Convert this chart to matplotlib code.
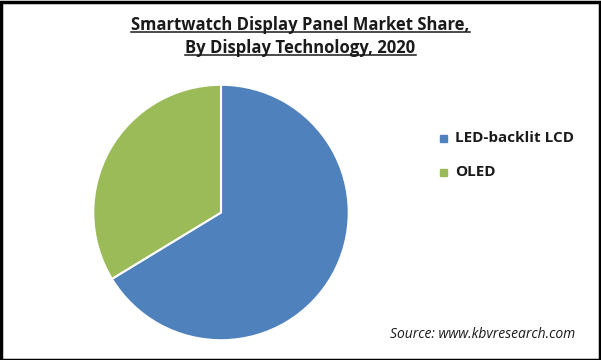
import matplotlib
matplotlib.use('Agg')
from matplotlib import pyplot as plt
from matplotlib.patches import Rectangle
from matplotlib.lines import Line2D

labels = ['LED-backlit LCD', 'OLED']
shares = [66.3, 33.7]
colors = ['#4F81BD', '#9BBB59']
title_lines = ['Smartwatch Display Panel Market Share,', 'By Display Technology, 2020']
source = 'Source: www.kbvresearch.com'

W, H = 601, 360
fig = plt.figure(figsize=(W/100, H/100), dpi=100)
fig.patch.set_facecolor('white')

# pie axes
cx, cy, r = 221, 212.5, 129
ax = fig.add_axes([(cx-r)/W, 1-(cy+r)/H, 2*r/W, 2*r/H])
ax.pie(shares, colors=colors, startangle=90, counterclock=False, radius=1,
       wedgeprops=dict(edgecolor='white', linewidth=1.5))
ax.set_xlim(-1.01, 1.01)
ax.set_ylim(-1.01, 1.01)
ax.set_aspect('equal')
ax.axis('off')

# title with underline
fam = ['Open Sans', 'DejaVu Sans']
ttexts = []
for i, line in enumerate(title_lines):
    y = 1 - (25 + i*23)/H
    t = fig.text(0.5, y, line, ha='center', va='center', fontsize=12,
                 fontweight='bold', family=fam, color='#1a1a1a')
    ttexts.append(t)

fig.canvas.draw()
renderer = fig.canvas.get_renderer()
for t in ttexts:
    bb = t.get_window_extent(renderer)
    yl = (bb.y0 + 2.5) / H
    fig.add_artist(Line2D([bb.x0/W, bb.x1/W], [yl, yl], color='#1a1a1a',
                          linewidth=1.1, transform=fig.transFigure))

# legend
leg_y = [138, 172]
for lab, col, y in zip(labels, colors, leg_y):
    fig.add_artist(Rectangle(((440)/W, 1-(y+4)/H), 7/W, 7/H, color=col,
                             transform=fig.transFigure))
    fig.text(455/W, 1-y/H, lab, ha='left', va='center', fontsize=11,
             fontweight='bold', family=fam, color='#1a1a1a')

# source
fig.text(575/W, 1-335/H, source, ha='right', va='center', fontsize=10,
         style='italic', family=fam, color='#1a1a1a')

# border
fig.add_artist(Rectangle((0.5/W, 0.5/H), 1-2/W, 1-2/H, fill=False,
                         edgecolor='black', linewidth=2.5, transform=fig.transFigure))

fig.savefig('out.png', dpi=100, facecolor='white')
